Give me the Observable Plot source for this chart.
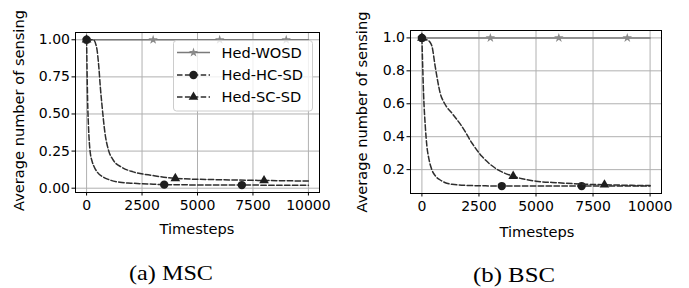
<!DOCTYPE html>
<html>
<head>
<meta charset="utf-8">
<script src="https://cdn.jsdelivr.net/npm/d3@7"></script>
<script src="https://cdn.jsdelivr.net/npm/@observablehq/plot@0.6"></script>
<style>
  html, body { margin: 0; padding: 0; background: white; }
  #wrap { position: relative; width: 689px; height: 288px; overflow: hidden; background: white; }
  #wrap svg { position: absolute; }
</style>
</head>
<body>
<div id="wrap"></div>
<script>
// ---------- data ----------
const seriesNames = ["Hed-WOSD", "Hed-HC-SD", "Hed-SC-SD"];
const panelCaptions = ["(a) MSC", "(b) BSC"];
const xLabel = "Timesteps";
const yLabel = "Average number of sensing";
const xTicks = [0, 2500, 5000, 7500, 10000];
const yTicksMSC = [0, 0.25, 0.5, 0.75, 1.0];
const yTicksBSC = [0.2, 0.4, 0.6, 0.8, 1.0];

// Hed-WOSD (constant)
const wosdX = [0, 10000];
const wosdY = [1.0, 1.0];
const wosdMarkX = [0, 3000, 6000, 9000];
const wosdMarkY = [1.0, 1.0, 1.0, 1.0];

// MSC panel
const mscHcX = [0, 20, 45, 90, 150, 250, 345, 500, 750, 1000, 1500, 2000, 3000, 3500, 5000, 7000, 10000];
const mscHcY = [1.0, 0.80, 0.60, 0.40, 0.26, 0.18, 0.143, 0.105, 0.075, 0.058, 0.040, 0.034, 0.027, 0.024, 0.022, 0.021, 0.020];
const mscHcMarkX = [0, 3500, 7000];
const mscHcMarkY = [1.0, 0.024, 0.021];
const mscScX = [0, 300, 450, 550, 620, 700, 830, 980, 1200, 1600, 2100, 3000, 4000, 6000, 8000, 10000];
const mscScY = [1.0, 1.0, 0.95, 0.82, 0.68, 0.55, 0.37, 0.26, 0.19, 0.14, 0.11, 0.085, 0.066, 0.057, 0.052, 0.048];
const mscScMarkX = [0, 4000, 8000];
const mscScMarkY = [1.0, 0.066, 0.052];

// BSC panel
const bscHcX = [0, 30, 73, 150, 220, 300, 440, 600, 805, 1000, 1320, 2000, 3000, 3500, 7000, 10000];
const bscHcY = [1.0, 0.85, 0.66, 0.46, 0.34, 0.27, 0.198, 0.16, 0.137, 0.122, 0.111, 0.104, 0.101, 0.100, 0.100, 0.100];
const bscHcMarkX = [0, 3500, 7000];
const bscHcMarkY = [1.0, 0.100, 0.100];
const bscScX = [0, 200, 350, 440, 585, 805, 1000, 1320, 1760, 2200, 2640, 3225, 4000, 5000, 6000, 7000, 8000, 9000, 10000];
const bscScY = [1.0, 0.99, 0.975, 0.95, 0.824, 0.663, 0.60, 0.542, 0.461, 0.36, 0.279, 0.208, 0.16, 0.13, 0.12, 0.112, 0.108, 0.105, 0.103];
const bscScMarkX = [0, 4000, 8000];
const bscScMarkY = [1.0, 0.16, 0.108];

// ---------- helpers ----------
const pts = (xs, ys) => xs.map((x, i) => ({x, y: ys[i]}));
const GRID = "#b0b0b0";
const WOSD_LINE = "#7a7a7a";
const WOSD_MARK = "#8a8a8a";
const DARK_LINE = "#2e2e2e";
const DARK_MARK = "#1e1e1e";
const DASH = "5.5,2.4";
const FONT = "DejaVu Sans";

function panel(opts) {
  return Plot.plot({
    width: opts.width,
    height: 240,
    marginLeft: opts.ml,
    marginRight: opts.mr,
    marginTop: opts.mt,
    marginBottom: 240 - opts.bottom,
    style: {fontFamily: FONT, fontSize: "14px", background: "transparent", overflow: "visible"},
    x: {domain: [-500, 10500]},
    y: {domain: opts.yDomain},
    marks: [
      Plot.gridX(xTicks, {stroke: GRID, strokeOpacity: 1, strokeWidth: 1}),
      Plot.gridY(opts.yTicks, {stroke: GRID, strokeOpacity: 1, strokeWidth: 1}),
      Plot.line(pts(wosdX, wosdY), {x: "x", y: "y", stroke: WOSD_LINE, strokeWidth: 1.5}),
      Plot.dot(pts(wosdMarkX, wosdMarkY), {x: "x", y: "y", symbol: "star", r: 3, fill: WOSD_MARK, stroke: "none"}),
      Plot.line(pts(opts.hcX, opts.hcY), {x: "x", y: "y", stroke: DARK_LINE, strokeWidth: 1.5, strokeDasharray: DASH, curve: "monotone-x"}),
      Plot.dot(pts(opts.hcMX, opts.hcMY), {x: "x", y: "y", symbol: "circle", r: 4.2, fill: DARK_MARK, stroke: "none"}),
      Plot.line(pts(opts.scX, opts.scY), {x: "x", y: "y", stroke: DARK_LINE, strokeWidth: 1.5, strokeDasharray: DASH, curve: "monotone-x"}),
      Plot.dot(pts(opts.scMX, opts.scMY), {x: "x", y: "y", symbol: "triangle", r: 3.6, fill: DARK_MARK, stroke: "none"}),
      Plot.frame({stroke: "black", strokeWidth: 1}),
      Plot.axisX({ticks: xTicks, tickFormat: d3.format("d"), tickSize: 3.5, tickPadding: 4, label: null, fontSize: 14}),
      Plot.axisY({ticks: opts.yTicks, tickFormat: d3.format(opts.yFmt), tickSize: 3.5, tickPadding: 2, label: null, fontSize: 14})
    ]
  });
}

const wrap = document.getElementById("wrap");

const left = panel({
  width: 345, ml: 75, mr: 26, mt: 32, bottom: 192,
  yDomain: [-0.029, 1.049], yTicks: yTicksMSC, yFmt: ".2f",
  hcX: mscHcX, hcY: mscHcY, hcMX: mscHcMarkX, hcMY: mscHcMarkY,
  scX: mscScX, scY: mscScY, scMX: mscScMarkX, scMY: mscScMarkY
});
left.style.left = "0px"; left.style.top = "0px";
wrap.appendChild(left);

const right = panel({
  width: 344, ml: 65, mr: 28, mt: 30, bottom: 193,
  yDomain: [0.055, 1.045], yTicks: yTicksBSC, yFmt: ".1f",
  hcX: bscHcX, hcY: bscHcY, hcMX: bscHcMarkX, hcMY: bscHcMarkY,
  scX: bscScX, scY: bscScY, scMX: bscScMarkX, scMY: bscScMarkY
});
right.style.left = "345px"; right.style.top = "0px";
wrap.appendChild(right);

// ---------- overlay: axis titles, legend, captions ----------
const ov = d3.select(wrap).append("svg")
  .attr("width", 689).attr("height", 288)
  .style("left", "0px").style("top", "0px")
  .style("pointer-events", "none");

const axisTitles = [
  {cx: 197, xb: 233.5, ly: 18.5, lc: 110.5},
  {cx: 537, xb: 237, ly: 362, lc: 112}
];
axisTitles.forEach(t => {
  ov.append("text").attr("x", t.cx).attr("y", t.xb)
    .attr("text-anchor", "middle").attr("font-family", FONT).attr("font-size", 14.6)
    .text(xLabel);
  ov.append("text")
    .attr("transform", `translate(${t.ly},${t.lc}) rotate(-90)`)
    .attr("text-anchor", "middle").attr("dy", "0.35em")
    .attr("font-family", FONT).attr("font-size", 14.6)
    .text(yLabel);
});

// captions
[{x: 171, y: 280, w: 84}, {x: 514, y: 282, w: 82}].forEach((c, i) => {
  ov.append("text").attr("x", c.x).attr("y", c.y)
    .attr("text-anchor", "middle").attr("font-family", "Liberation Serif").attr("font-size", 22)
    .attr("textLength", c.w).attr("lengthAdjust", "spacingAndGlyphs")
    .text(panelCaptions[i]);
});

// legend (left panel)
const lg = ov.append("g");
lg.append("rect").attr("x", 173.5).attr("y", 40.5).attr("width", 139).attr("height", 70.5)
  .attr("rx", 3).attr("fill", "white").attr("fill-opacity", 0.8)
  .attr("stroke", "#cccccc").attr("stroke-width", 1);
const rows = [
  {y: 52.5, stroke: WOSD_LINE, dash: null, sym: d3.symbolStar, r: 3, fill: WOSD_MARK},
  {y: 75, stroke: DARK_LINE, dash: DASH, sym: d3.symbolCircle, r: 4.2, fill: DARK_MARK},
  {y: 97, stroke: DARK_LINE, dash: DASH, sym: d3.symbolTriangle, r: 3.6, fill: DARK_MARK}
];
rows.forEach((r, i) => {
  const l = lg.append("line").attr("x1", 177).attr("x2", 210).attr("y1", r.y).attr("y2", r.y)
    .attr("stroke", r.stroke).attr("stroke-width", 1.5);
  if (r.dash) l.attr("stroke-dasharray", r.dash);
  lg.append("path").attr("transform", `translate(193.5,${r.y})`)
    .attr("d", d3.symbol(r.sym, r.r * r.r * Math.PI)())
    .attr("fill", r.fill);
  lg.append("text").attr("x", 221.5).attr("y", r.y).attr("dy", "0.36em")
    .attr("font-family", FONT).attr("font-size", 14.6)
    .text(seriesNames[i]);
});
</script>
</body>
</html>
